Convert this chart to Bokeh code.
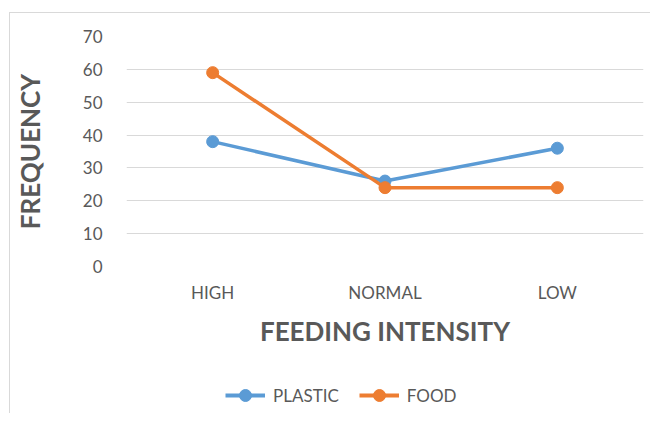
from bokeh.plotting import figure
from bokeh.layouts import column
from bokeh.models import Legend, LegendItem, Range1d, FixedTicker, FactorRange
from bokeh.embed import file_html
from bokeh.resources import INLINE

categories = ["HIGH", "NORMAL", "LOW"]
plastic = [38, 26, 36]
food = [59, 24, 24]
y_ticks = [0, 10, 20, 30, 40, 50, 60, 70]

FONT = "Lato"
GRAY = "#595959"
BLUE = "#5B9BD5"
ORANGE = "#ED7D31"

p = figure(width=640, height=350, x_range=categories, y_range=Range1d(0, 70),
           output_backend="svg", toolbar_location=None,
           min_border_left=113, min_border_right=7, min_border_top=23, min_border_bottom=97)
p.outline_line_color = None

p.line(categories, plastic, line_color=BLUE, line_width=3.5)
p.scatter(categories, plastic, size=12, fill_color=BLUE, line_color=BLUE)
p.line(categories, food, line_color=ORANGE, line_width=3.5)
p.scatter(categories, food, size=12, fill_color=ORANGE, line_color=ORANGE)

p.xgrid.grid_line_color = None
p.ygrid.grid_line_color = "#D9D9D9"
p.ygrid.ticker = FixedTicker(ticks=y_ticks)

p.yaxis.ticker = FixedTicker(ticks=y_ticks)
p.yaxis.axis_line_color = None
p.yaxis.major_tick_line_color = None
p.yaxis.minor_tick_line_color = None
p.yaxis.major_label_standoff = 18
p.yaxis.major_label_text_font = FONT
p.yaxis.major_label_text_font_size = "17px"
p.yaxis.major_label_text_color = GRAY
p.yaxis.axis_label = "FREQUENCY"
p.yaxis.axis_label_text_font = FONT
p.yaxis.axis_label_text_font_size = "26px"
p.yaxis.axis_label_text_font_style = "bold"
p.yaxis.axis_label_text_color = GRAY
p.yaxis.axis_label_standoff = 34

p.xaxis.axis_line_color = None
p.xaxis.major_tick_line_color = None
p.xaxis.major_label_standoff = 9
p.xaxis.major_label_text_font = FONT
p.xaxis.major_label_text_font_size = "17px"
p.xaxis.major_label_text_color = GRAY
p.xaxis.axis_label = "FEEDING INTENSITY"
p.xaxis.axis_label_text_font = FONT
p.xaxis.axis_label_text_font_size = "26px"
p.xaxis.axis_label_text_font_style = "bold"
p.xaxis.axis_label_text_color = GRAY
p.xaxis.axis_label_standoff = 9

# legend strip below the chart (hidden copies of the series supply the legend glyphs)
lg = figure(width=640, height=50, x_range=FactorRange(*categories), y_range=Range1d(0, 70),
            output_backend="svg", toolbar_location=None,
            x_axis_location=None, y_axis_location=None,
            min_border_left=0, min_border_right=0, min_border_top=0, min_border_bottom=0)
lg.outline_line_color = None
lg.grid.grid_line_color = None
l1 = lg.line(categories, plastic, line_color=BLUE, line_width=4, visible=False)
s1 = lg.scatter(categories, plastic, size=12, fill_color=BLUE, line_color=BLUE, visible=False)
l2 = lg.line(categories, food, line_color=ORANGE, line_width=4, visible=False)
s2 = lg.scatter(categories, food, size=12, fill_color=ORANGE, line_color=ORANGE, visible=False)
legend = Legend(items=[LegendItem(label="PLASTIC", renderers=[l1, s1]),
                       LegendItem(label="FOOD", renderers=[l2, s2])],
                orientation="horizontal", location=(99, 3),
                border_line_color=None, background_fill_alpha=0,
                padding=0, margin=0,
                label_text_font=FONT, label_text_font_size="17px",
                label_text_color=GRAY, glyph_width=40, glyph_height=30,
                spacing=20, label_standoff=8)
lg.add_layout(legend, "center")

layout = column(p, lg, spacing=0)
layout.styles = {"margin-left": "9px", "margin-top": "12px",
                 "border-left": "1px solid #d9d9d9", "border-top": "1px solid #d9d9d9"}

open("out.html", "w").write(file_html(layout, INLINE))
